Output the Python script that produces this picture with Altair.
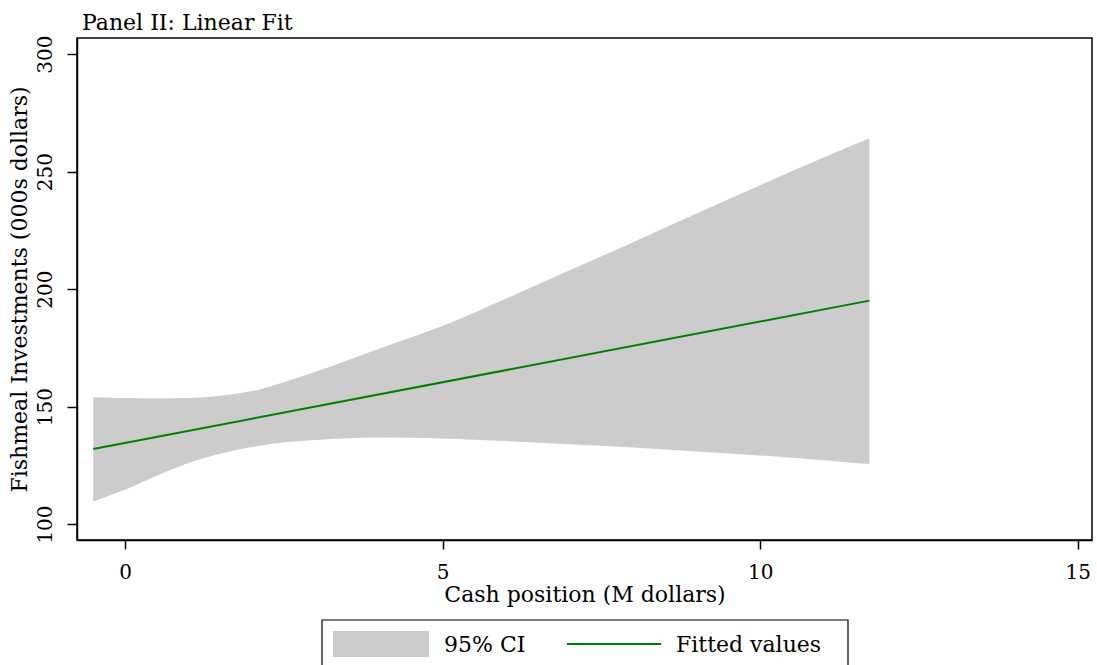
import altair as alt
import pandas as pd

# Confidence band of the linear fit
ci_x = [-0.5, 0, 0.5, 1, 1.5, 2, 2.5, 3, 3.5, 4, 4.5, 5, 6, 7, 8, 9, 10, 11, 11.72]
ci_upper = [154.0, 153.6, 153.4, 153.6, 154.6, 156.6, 160.4, 164.8, 169.6, 174.6,
            179.4, 184.3, 196.0, 208.0, 220.0, 232.2, 244.2, 256.0, 264.2]
ci_lower = [109.6, 114.6, 120.6, 126.0, 129.9, 132.8, 134.7, 135.8, 136.5, 136.8,
            136.7, 136.4, 135.3, 134.0, 132.6, 130.9, 129.2, 127.2, 125.5]

# Fitted regression line
fit_x = [-0.5, 11.72]
fit_y = [131.9, 195.1]

legend_labels = ["95% CI", "Fitted values"]
x_ticks = [0, 5, 10, 15]
y_ticks = [100, 150, 200, 250, 300]

FONT = "DejaVu Serif"
GREY = "#cccccc"
GREEN = "#008000"
TEXT_SIZE = 22

band_df = pd.DataFrame({"cash": ci_x, "lo": ci_lower, "hi": ci_upper})
fit_df = pd.DataFrame({"cash": fit_x, "fitted": fit_y})

xscale = alt.Scale(domain=[-0.756, 15.225], nice=False, zero=False)
yscale = alt.Scale(domain=[93.2, 306.9], nice=False, zero=False)

x_axis = alt.Axis(values=x_ticks, title="Cash position (M dollars)", tickSize=9,
                  labelPadding=13, titlePadding=2, format="d", grid=False)
y_axis = alt.Axis(values=y_ticks, title="Fishmeal Investments (000s dollars)",
                  tickSize=10, labelAngle=270, labelAlign="center",
                  labelBaseline="alphabetic", labelPadding=16, titlePadding=4,
                  format="d", grid=False)

band = alt.Chart(band_df).mark_area(color=GREY, opacity=1, interpolate="monotone").encode(
    x=alt.X("cash:Q", scale=xscale, axis=x_axis),
    y=alt.Y("lo:Q", scale=yscale, axis=y_axis),
    y2="hi:Q",
)

fit = alt.Chart(fit_df).mark_line(color=GREEN, strokeWidth=2).encode(
    x=alt.X("cash:Q", scale=xscale),
    y=alt.Y("fitted:Q", scale=yscale),
)

# Legend box below the plot
one = pd.DataFrame({"k": [0]})
legend_box = alt.Chart(one).mark_rect(fill="white", stroke="black", strokeWidth=1.2).encode(
    x=alt.value(245), x2=alt.value(771), y=alt.value(582), y2=alt.value(640)
)
swatch = alt.Chart(one).mark_rect(fill=GREY).encode(
    x=alt.value(256), x2=alt.value(352), y=alt.value(593), y2=alt.value(619)
)
legend_line = alt.Chart(one).mark_rule(color=GREEN, strokeWidth=2).encode(
    x=alt.value(490), x2=alt.value(584), y=alt.value(606)
)
lab_df = pd.DataFrame({"label": legend_labels, "pos": [367, 599]})
legend_text = alt.Chart(lab_df).mark_text(
    align="left", baseline="middle", font=FONT, fontSize=TEXT_SIZE, color="black"
).encode(
    x=alt.X("pos:Q", scale=None),
    y=alt.value(607),
    text="label:N",
)

chart = alt.layer(band, fit, legend_box, swatch, legend_line, legend_text).properties(
    width=1015,
    height=502,
    autosize=alt.AutoSizeParams(type="none"),
    padding={"left": 77, "top": 38, "right": 5, "bottom": 125},
    title=alt.TitleParams(
        "Panel II: Linear Fit", anchor="start", frame="group", dx=5, offset=0,
        font=FONT, fontSize=TEXT_SIZE, fontWeight="normal", color="black",
    ),
).configure(
    background="white"
).configure_view(
    stroke="black", strokeWidth=1.5
).configure_axis(
    grid=False, domainColor="black", domainWidth=1.5, tickColor="black",
    tickWidth=1.5, labelColor="black", labelFont=FONT, labelFontSize=20,
    titleColor="black", titleFont=FONT, titleFontSize=TEXT_SIZE,
    titleFontWeight="normal", labelOverlap=False,
)

chart.save("out.html", embed_options={"renderer": "svg", "actions": False})
